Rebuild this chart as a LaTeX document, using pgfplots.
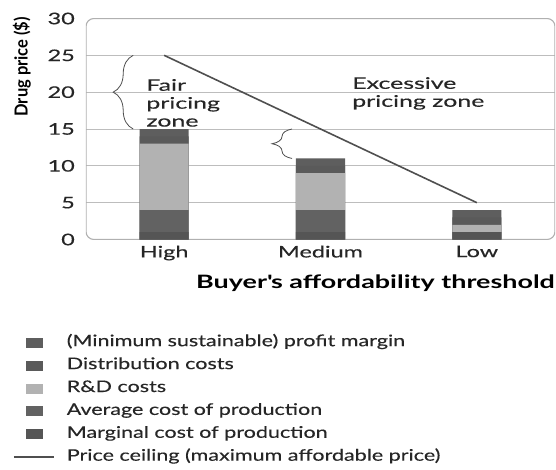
\documentclass[border=0pt]{standalone}
\usepackage{fontspec}
\setmainfont{Lato}[FakeStretch=1.47, FakeBold=0.3]
\newfontfamily\ylabfont{Lato}[FakeStretch=0.92]
\newfontfamily\legfont{Lato}[FakeStretch=1.35, FakeBold=0.3]
\newfontfamily\annfont{Lato}[FakeStretch=1.56, FakeBold=0.3]
\newfontfamily\xlabfont{Lato}[FakeStretch=1.46]
\usepackage{pgfplots}
\pgfplotsset{compat=1.18}
\usetikzlibrary{decorations.pathreplacing}
\definecolor{cprofit}{HTML}{5E5E5E}
\definecolor{cdist}{HTML}{5A5A5A}
\definecolor{crd}{HTML}{B2B2B2}
\definecolor{cavg}{HTML}{626262}
\definecolor{cmarg}{HTML}{555555}
\definecolor{linec}{HTML}{4F4F4F}
\definecolor{gridc}{HTML}{BDBDBD}
\definecolor{framec}{HTML}{B0B0B0}
\definecolor{textc}{HTML}{262626}
\begin{document}
\begin{tikzpicture}
\path[use as bounding box] (-86bp,-230.5bp) rectangle (470bp,239.5bp);
\begin{axis}[
  scale only axis, width=469bp, height=221bp,
  xmin=-0.5, xmax=2.5, ymin=0, ymax=30,
  axis line style={draw=none},
  xtick={0,1,2}, xticklabels={High,Medium,Low},
  ytick={5,10,...,25},
  extra y ticks={0,30},
  extra y tick style={grid=none},
  major tick length=0pt,
  ymajorgrids, grid style={draw=gridc, line width=0.9bp},
  /pgf/number format/assume math mode=true,
  tick label style={font=\fontsize{16}{18}\selectfont, text=textc},
  yticklabel style={anchor=east, inner sep=0pt, xshift=-11bp},
  xticklabel style={anchor=north, inner sep=0pt, yshift=-6bp},
  xlabel={Buyer\textquotesingle s affordability threshold},
  xlabel style={at={(rel axis cs:1,0)}, anchor=north east, inner sep=0pt, yshift=-35.5bp, xshift=0bp, font=\xlabfont\fontsize{18.5}{20}\selectfont\bfseries, text=black},
  ylabel={Drug price (\$)},
  ylabel style={at={(rel axis cs:-0.1365,1.008)}, anchor=east, inner sep=0pt, font=\ylabfont\fontsize{18}{20}\selectfont\bfseries, text=black},
  legend style={at={(rel axis cs:0,0)}, anchor=north west, xshift=-73bp, yshift=-95.5bp,
    draw=none, fill=none, inner sep=0pt, row sep=7.9bp, column sep=12bp,
    nodes={inner sep=0pt, text height=11bp, text depth=4bp, font=\legfont\fontsize{16}{18}\selectfont, text=textc}},
  legend cell align=left,
]
\draw[framec, line width=1.1bp, rounded corners=8bp] (rel axis cs:0,0) rectangle (rel axis cs:1,1);
% cumulative tops of each segment (drawn from the top segment down)
\addplot[ybar, bar width=49bp, bar shift=0pt, fill=cprofit, draw=none,
  legend image code/.code={\fill[cprofit] (12bp,-5bp) rectangle (29bp,5bp);}]
  coordinates {(0,15) (1,11) (2,4)};
\addlegendentry{(Minimum sustainable) profit margin}
\addplot[ybar, bar width=49bp, bar shift=0pt, fill=cdist, draw=none,
  legend image code/.code={\fill[cdist] (12bp,-5bp) rectangle (29bp,5bp);}]
  coordinates {(0,14) (1,10) (2,3)};
\addlegendentry{Distribution costs}
\addplot[ybar, bar width=49bp, bar shift=0pt, fill=crd, draw=none,
  legend image code/.code={\fill[crd] (12bp,-5bp) rectangle (29bp,5bp);}]
  coordinates {(0,13) (1,9) (2,2)};
\addlegendentry{R\&D costs}
\addplot[ybar, bar width=49bp, bar shift=0pt, fill=cavg, draw=none,
  legend image code/.code={\fill[cavg] (12bp,-5bp) rectangle (29bp,5bp);}]
  coordinates {(0,4) (1,4) (2,1)};
\addlegendentry{Average cost of production}
\addplot[ybar, bar width=49bp, bar shift=0pt, fill=cmarg, draw=none,
  legend image code/.code={\fill[cmarg] (12bp,-5bp) rectangle (29bp,5bp);}]
  coordinates {(0,1) (1,1) (2,1)};
\addlegendentry{Marginal cost of production}
\addplot[linec, line width=1.6bp, mark=none,
  legend image code/.code={\draw[linec, line width=1.6bp] (0bp,0bp) -- (40bp,0bp);}]
  coordinates {(0,25) (2,5)};
\addlegendentry{Price ceiling (maximum affordable price)}
\draw[linec, line width=0.8bp, decorate, decoration={brace, amplitude=20bp}]
  (axis cs:-0.198,15) -- (axis cs:-0.198,25);
\draw[linec, line width=0.8bp, decorate, decoration={brace, amplitude=20bp}]
  (axis cs:0.818,11) -- (axis cs:0.818,15);
\node[anchor=north west, align=left, inner sep=0pt, text=textc,
  font=\annfont\fontsize{16}{18}\selectfont] at (axis cs:-0.115,21.8) {Fair\\pricing\\zone};
\node[anchor=north west, align=left, inner sep=0pt, text=textc,
  font=\annfont\fontsize{16}{18}\selectfont] at (axis cs:1.202,22.06) {Excessive\\pricing zone};
\end{axis}
\end{tikzpicture}
\end{document}
